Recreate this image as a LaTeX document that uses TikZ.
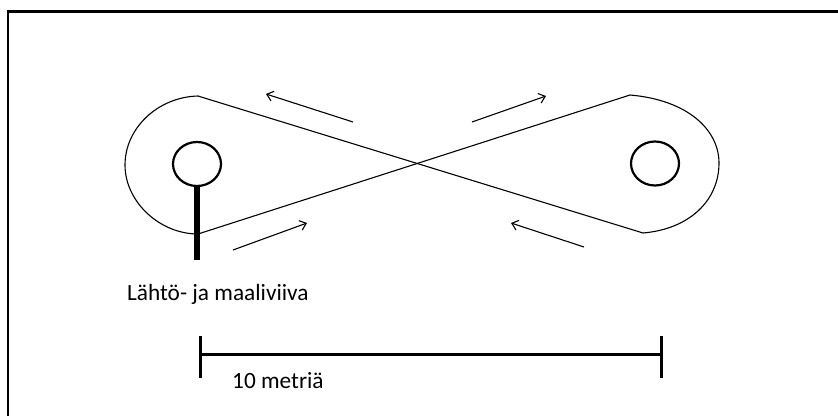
\documentclass[tikz,border=0pt]{standalone}
\usepackage{fontspec}
\setmainfont{Carlito}
\usetikzlibrary{shapes.geometric,arrows.meta}
\begin{document}
\begin{tikzpicture}[x=1pt,y=-1pt,
  thin line/.style={line width=1.1pt},
  cone/.style={draw,ellipse,line width=2.2pt,minimum width=48pt,minimum height=44pt,inner sep=0pt},
  dir arrow/.style={line width=1.1pt,-{Straight Barb[length=6pt,width=10pt,line width=1.1pt]}},
  lbl/.style={anchor=base west,inner sep=0pt,font=\fontsize{23.3}{27}\selectfont},
  bar/.style={line width=3pt}]
\useasboundingbox (0,0) rectangle (838,415);
\fill[white] (0,0) rectangle (838,415);
% frame
\draw[line width=2.6pt] (8,416) -- (8,11.3) -- (839,11.3);
% loop points
\coordinate (LT) at (198,96);
\coordinate (LB) at (198,234);
\coordinate (LL) at (125,165);
\coordinate (RT) at (630,95);
\coordinate (RB) at (643,233);
\coordinate (RR) at (719,163);
\draw[thin line] (LT) .. controls (158,97) and (125,128) .. (LL)
   .. controls (125,202) and (160,234) .. (LB);
\draw[thin line] (RT) .. controls (688,100) and (719,130) .. (RR)
   .. controls (719,200) and (690,229) .. (RB);
\draw[thin line] (LT) -- (RB);
\draw[thin line] (LB) -- (RT);
% cones
\node[cone] (lc) at (197,164) {};
\node[cone] (rc) at (655,163.5) {};
% start line
\coordinate (sl) at (197,260);
\draw[line width=5.5pt] (lc.south) -- (sl);
% direction arrows
\coordinate (a1s) at (353,122); \coordinate (a1e) at (266,94);
\coordinate (a2s) at (233,250); \coordinate (a2e) at (307,223);
\coordinate (a3s) at (472,122); \coordinate (a3e) at (546,96);
\coordinate (a4s) at (584,247); \coordinate (a4e) at (511,223);
\draw[dir arrow] (a1s) -- (a1e);
\draw[dir arrow] (a2s) -- (a2e);
\draw[dir arrow] (a3s) -- (a3e);
\draw[dir arrow] (a4s) -- (a4e);
% labels
\node[lbl] (start) at (127,300) {Lähtö- ja maaliviiva};
% scale bar
\coordinate (b1t) at (200,336); \coordinate (b1b) at (200,378);
\coordinate (b2t) at (661,336); \coordinate (b2b) at (661,378);
\coordinate (b1) at (200,354); \coordinate (b2) at (661,354);
\draw[bar] (b1t) -- (b1b);
\draw[bar] (b2t) -- (b2b);
\draw[bar] (b1) -- (b2);
\node[lbl] (dist) at (232,388) {10 metriä};
\end{tikzpicture}
\end{document}
